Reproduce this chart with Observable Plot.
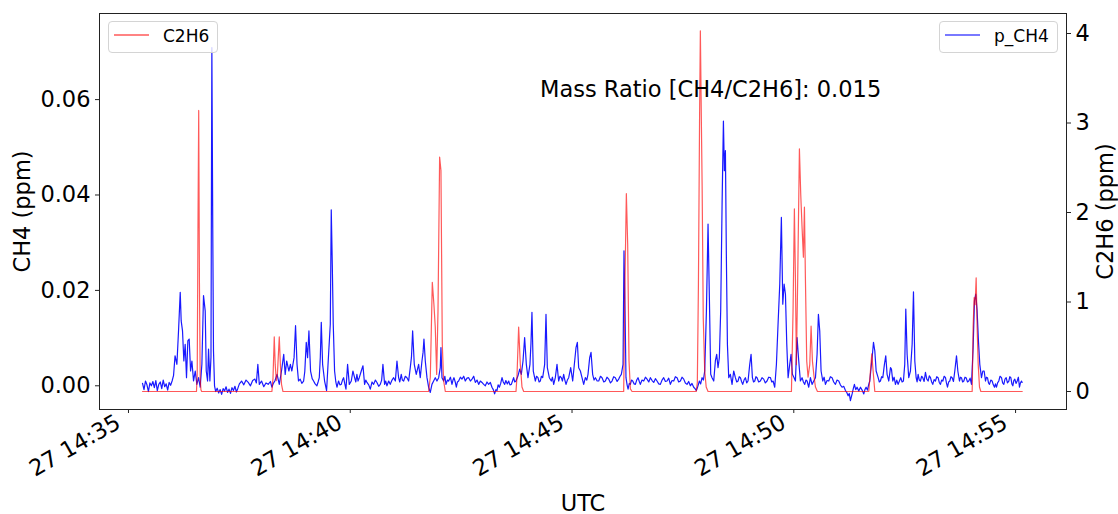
<!DOCTYPE html>
<html>
<head>
<meta charset="utf-8">
<script src="https://cdn.jsdelivr.net/npm/d3@7"></script>
<script src="https://cdn.jsdelivr.net/npm/@observablehq/plot@0.6"></script>
<style>
  body { margin: 0; background: #fff; }
  #wrap { position: relative; width: 1118px; height: 514px; font-family: "DejaVu Sans", sans-serif; }
</style>
</head>
<body>
<div id="wrap"></div>
<script>
// ---- data: seconds after 27 14:35:00 UTC, value in ppm ----
const ch4Series = [[19,.0005],[21,-.0008],[23,.0010],[25,.0002],[27,-.0012],[29,.0006],[31,0],[33,.0009],[35,-.0004],[37,.0011],[39,-.0010],[41,.0003],[43,.0008],[45,-.0006],[47,.0012],[49,-.0002],[51,.0004],[53,-.0009],[55,.0007],[57,.0001],[59,.0010],[61,.0022],[63,.0063],[65.5,.0045],[67.7,.0115],[70,.0196],[71.3,.0136],[73.1,.0115],[74.9,.0052],[76.7,.0087],[78.5,.0017],[80.3,.0094],[82.1,.0098],[84,.0031],[85.8,.0052],[88,.0010],[90.3,.0031],[92.5,.0003],[94.8,.0017],[97,-.0003],[99.3,.0045],[101.5,.0189],[103.8,.0157],[105.2,.0031],[107,.0010],[108.3,.0077],[110.1,.0010],[111.6,.0060],[112.8,.0709],[114,.0330],[115,.0073],[116.4,0],[118,-.0012],[120,-.0005],[122,-.0015],[124,-.0008],[126,-.0018],[128,-.0006],[130,-.0011],[132,-.0002],[134,-.0014],[136,-.0007],[138,-.0016],[140,-.0004],[142,-.0010],[144,-.0001],[146,-.0013],[148,-.0005],[150,.0004],[153,.0010],[156,.0002],[159,.0012],[162,.0007],[165,0],[168,.0011],[171,.0014],[173,.0006],[175,.0045],[177,.0003],[180,.0010],[183,-.0002],[186,.0006],[189,.0003],[192,.0009],[194,-.0003],[196,.0005],[198,.0010],[201,.0024],[204,.0003],[207,.0031],[210,.0066],[212,.0024],[214,.0052],[217,.0031],[219,.0045],[221,.0031],[224,.0059],[226,.0126],[228,.0045],[230,.0010],[232.3,.0014],[234.5,.0005],[236.9,.0010],[238.5,.0030],[240.5,.0091],[242.3,.0059],[244.1,.0115],[246.3,.0031],[248.5,.0015],[250.4,.0010],[252.5,.0004],[254.9,0],[256.5,.0008],[258.1,.0017],[259.5,.0060],[260.8,.0133],[262.6,.0045],[265.3,.0010],[268,-.0010],[270.7,.0066],[273,.0129],[274.3,.0369],[275.7,.0255],[277,.0129],[278.8,.0031],[280.5,.0008],[282,-.0003],[284.2,.0010],[286,.0002],[287.8,.0003],[289.5,.0012],[291,.0017],[292.5,.0005],[294.2,-.0007],[296.4,.0045],[298.7,.0003],[301.4,.0010],[303.6,.0031],[305.9,.0017],[307.5,.0008],[309,.0024],[310.5,.0010],[312.2,.0017],[314.9,.0031],[317.2,.0042],[319.4,.0003],[321,.0012],[322.6,.0007],[325,.0002],[327.1,-.0007],[329.5,.0008],[331.6,.0003],[334,.0012],[336.1,.0007],[338.5,-.0001],[340.6,.0003],[342.5,.0012],[344.2,.0045],[346.5,.0003],[348,.0010],[349.6,0],[352,.0010],[354.1,.0003],[356.5,.0012],[358.7,.0017],[361,.0010],[363.2,.0052],[365.4,.0017],[367,.0008],[369,.0024],[370.5,.0012],[372.2,.0010],[374.5,.0020],[376.7,.0017],[379,.0010],[381.2,.0038],[382.8,.0060],[384.4,.0115],[386.6,.0045],[389.3,.0024],[392.5,.0045],[394.7,.0017],[397,.0052],[398.5,.0070],[399.7,.0098],[401.5,.0052],[403.8,.0017],[406,-.0003],[408.3,-.0014],[410.5,.0003],[412.8,.0010],[415,.0017],[417.3,.0010],[419.6,.0017],[421.8,.0038],[422.7,.0080],[424.1,.0017],[426.3,.0010],[428,.0020],[429.5,.0003],[431.5,.0012],[433.1,.0010],[435.5,.0018],[437.6,.0003],[439,.0012],[440.3,.0017],[442,.0008],[443.5,-.0003],[445,.0008],[446.6,.0010],[449,.0018],[451.1,.0014],[453.5,.0020],[455.6,.0010],[458,.0016],[460.2,.0017],[462.5,.0010],[464.7,.0014],[467,.0020],[469.2,.0007],[471.5,.0012],[473.7,.0003],[476,.0010],[478.2,.0007],[480.5,.0003],[482.7,0],[485,.0008],[487.2,.0003],[489.5,.0007],[491.7,-.0003],[493.5,-.0008],[495.3,-.0017],[497,-.0008],[498.5,-.0010],[500,.0002],[501.7,-.0003],[503.5,.0005],[505.3,.0017],[507,.0008],[508.9,.0003],[510.5,.0011],[512.5,.0004],[514.3,.0010],[516,.0002],[517.9,.0003],[519.5,.0010],[521,.0017],[522.5,.0008],[524.2,.0010],[526.9,.0021],[529.2,.0035],[531.4,.0024],[533.7,.0052],[535.9,.0101],[538.2,.0045],[540.4,.0017],[543.1,.0045],[544.5,.0090],[545.8,.0154],[547.6,.0031],[550.4,.0010],[552,.0020],[553.9,.0017],[555.5,.0008],[557.1,.0010],[558.5,.0020],[560.3,.0017],[563,.0045],[564.8,.0150],[566.6,.0038],[569.3,.0017],[572,.0010],[573.5,.0018],[575.2,.0003],[577.4,.0017],[579.7,.0045],[581.9,.0010],[583.7,.0020],[585.5,.0017],[587,.0010],[588.7,.0024],[590.3,.0012],[591.9,.0003],[593.7,.0012],[595.5,.0017],[598.2,.0038],[600.9,.0010],[603.6,.0052],[605.4,.0080],[607.2,.0091],[609,.0038],[611.3,.0031],[613.5,.0017],[615.8,.0003],[618,.0017],[620,.0012],[621.6,.0024],[623.9,.0059],[625.7,.0070],[627.9,.0024],[629.8,.0012],[631.6,.0017],[634,.0010],[636.1,.0010],[638.5,.0020],[640.6,.0017],[643,.0008],[645.1,.0010],[647.3,.0018],[649.6,.0014],[652,.0006],[654.1,.0010],[656.4,.0019],[658.6,.0017],[661,.0009],[663.1,.0014],[665,.0020],[666.7,.0024],[669,.0045],[670.3,.0283],[671.7,.0157],[673,.0017],[674.5,.0002],[675.8,-.0007],[677.5,.0005],[678.9,.0003],[680.5,.0012],[682.1,.0010],[684,.0004],[685.7,.0003],[687.5,.0012],[689.3,.0017],[691,.0009],[692.4,.0003],[694.7,.0012],[697,.0010],[699.3,.0018],[701.5,.0014],[703.8,.0008],[706,.0017],[708.3,.0011],[710.5,.0007],[712.8,.0015],[715,.0010],[717.3,.0004],[719.5,.0003],[721.8,.0012],[724,.0017],[726.3,.0009],[728.5,.0010],[730.8,.0016],[733,.0003],[735.3,.0011],[737.6,.0010],[739.8,.0019],[742.1,.0017],[744.3,.0008],[746.6,.0010],[748.8,.0018],[751.1,.0014],[753.3,.0006],[755.6,.0003],[757.8,.0009],[760.1,0],[762.3,.0005],[764.6,-.0003],[766.4,-.0006],[768.2,-.0010],[770,-.0002],[772.3,.0010],[774,.0004],[775.9,.0017],[777.7,.0012],[779.5,.0031],[781.8,.0157],[784,.0339],[785.8,.0185],[787.6,.0024],[789.4,.0017],[791.7,.0010],[793.9,.0052],[795.7,.0066],[797.5,.0038],[799.3,.0059],[801.1,.0157],[803,.0381],[804.8,.0555],[806.1,.0451],[807.5,.0493],[808.8,.0269],[810.2,.0087],[812,.0017],[814.2,.0024],[816.5,.0003],[818.7,.0031],[821,.0017],[822.8,.0008],[824.6,.0010],[826.2,.0019],[827.8,.0017],[829.3,.0009],[830.9,.0003],[832.7,.0012],[834.5,.0017],[836.3,.0006],[838.1,.0010],[840.4,.0045],[842.2,.0066],[844,.0017],[845.6,.0008],[847.2,.0010],[848.8,.0019],[850.3,.0017],[852.5,.0008],[854.8,.0010],[857,.0017],[859.3,.0014],[861.5,.0006],[863.8,.0010],[866,.0018],[868.4,.0017],[870.2,.0008],[872,.0010],[874.2,-.0003],[876.5,.0045],[878.7,.0129],[881,.0213],[883.2,.0353],[885.1,.0171],[886.9,.0213],[888.7,.0192],[890.5,.0087],[892.3,.0017],[894.5,.0045],[896.3,.0066],[898.1,.0024],[900.4,.0017],[902.2,.0010],[904.4,.0101],[906.7,.0052],[908.9,.0010],[911.2,.0017],[913,.0008],[914.8,.0003],[916.4,.0012],[918,.0010],[920.2,-.0003],[922.5,.0017],[924.7,.0003],[927,.0010],[929.3,.0017],[931.5,.0066],[933.3,.0150],[935.1,.0115],[936.9,.0031],[939.2,.0010],[941,.0018],[942.8,.0003],[945,.0011],[947.3,.0010],[949.5,.0019],[951.8,.0017],[954,.0008],[956.3,.0003],[958.5,.0012],[960.8,.0010],[963,.0002],[965.3,-.0003],[967.5,-.0001],[969.9,-.0010],[971.7,-.0014],[973.5,-.0021],[975,-.0016],[976.6,-.0031],[978.9,-.0017],[980.5,-.0006],[982,.0003],[983.8,-.0008],[985.6,-.0003],[987.9,-.0011],[990.2,-.0003],[992.4,-.0009],[994.7,-.0017],[996.2,-.0008],[997.8,-.0003],[999.6,-.0009],[1001.4,.0003],[1002.8,.0010],[1004.1,.0031],[1006.4,.0066],[1007.8,.0091],[1009.6,.0073],[1011.4,.0031],[1014.1,.0017],[1015.7,.0008],[1017.2,.0010],[1018.8,.0019],[1020.4,.0017],[1022.6,.0045],[1024.4,.0063],[1026.2,.0024],[1028.5,.0010],[1030.8,.0038],[1032.1,.0035],[1033.9,.0010],[1035.7,.0018],[1037.5,.0003],[1039.3,.0012],[1041.1,.0003],[1042.9,.0010],[1044.7,.0017],[1046.5,.0008],[1048.3,.0010],[1050.1,.0045],[1051.5,.0161],[1053.3,.0066],[1055.5,.0017],[1057.8,.0031],[1060.1,.0087],[1061.9,.0197],[1063.7,.0052],[1065.5,.0017],[1066.8,.0008],[1068.2,.0024],[1069.8,.0012],[1071.3,.0010],[1072.9,.0020],[1074.5,.0017],[1076.3,.0009],[1078.1,.0028],[1079.9,.0014],[1081.7,.0010],[1083.3,.0021],[1084.9,.0017],[1086.5,.0008],[1088,.0003],[1089.8,.0013],[1091.6,.0010],[1093.4,.0019],[1095.2,.0017],[1096.8,.0007],[1098.4,.0003],[1100,.0012],[1101.6,.0010],[1103.4,.0020],[1105.2,.0017],[1106.5,.0006],[1107.9,-.0003],[1109.5,.0008],[1111,.0010],[1112.6,.0019],[1114.2,.0017],[1116,.0009],[1117.8,.0031],[1120.1,.0063],[1121.9,.0031],[1124.1,.0010],[1125.5,.0018],[1126.8,.0017],[1128.4,.0008],[1130,.0010],[1131.6,.0018],[1133.1,.0017],[1135,.0008],[1136.7,.0010],[1138.5,.0016],[1140.4,.0003],[1142.6,.0080],[1144.4,.0178],[1146.2,.0192],[1148,.0157],[1149.8,.0094],[1151.6,.0045],[1153.9,.0017],[1155.7,.0031],[1157.5,.0031],[1159.3,.0010],[1160.7,.0018],[1162,.0017],[1163.4,.0006],[1164.7,.0003],[1166.5,.0012],[1168.3,.0010],[1169.9,.0002],[1171.5,-.0003],[1172.8,.0004],[1174.2,-.0003],[1175.7,.0006],[1177.3,.0010],[1179,.0020],[1181,.0017],[1182.5,.0006],[1184.1,.0003],[1185.7,.0014],[1187.3,.0017],[1189,.0006],[1190.9,.0010],[1192.2,.0019],[1193.6,.0017],[1195,.0004],[1196.3,0],[1197.6,.0011],[1199,.0014],[1200.6,.0005],[1202.2,.0010],[1203.8,.0018],[1205.3,-.0003],[1206.6,.0006],[1208,.0010],[1208.9,.0007]];

const c2h6Series = [[19,0],[92,0],[93,.2],[94,1.8],[95,3.14],[96,1.2],[97,.15],[98,.02],[99,0],
[194,0],[195.5,.15],[197.2,.61],[198.5,.3],[200,.12],[201.5,.2],[203,.45],[204,.61],[205.5,.3],[207,.08],[209,0],
[406,0],[408.3,.16],[411,1.22],[413.2,.97],[415,.72],[416.9,.19],[418.7,.9],[420.9,2.62],[422.7,2.47],[424.5,.53],[426.3,.12],[428.6,0],
[524.2,0],[525.5,.16],[527.8,.72],[530,.31],[532.3,.05],[534.6,0],
[669.9,0],[671.7,1.27],[673.5,2.21],[675.3,1.64],[677.1,.34],[678.9,.03],[681.2,0],
[768,0],[769.5,.1],[771,1.2],[772.5,3.0],[773.6,4.03],[775,3.0],[776,2.3],[777.5,.83],[779.5,.23],[781.5,.05],[784,0],
[896.8,0],[899,.9],[900.8,2.04],[902.2,1.27],[903.5,.3],[905.3,1.27],[907.6,2.71],[909.4,2.2],[911.2,1.83],[913,1.5],[914.4,2.06],[915.7,1.27],[917.5,.34],[919.3,.16],[921.6,.3],[923.4,.73],[925.2,.34],[927.5,.16],[929.3,.05],[932,0],
[1001.4,0],[1003.7,.23],[1005.5,.42],[1007.3,.23],[1009.6,0],
[1141.3,0],[1142.6,.72],[1144,1.05],[1145.3,.97],[1146.7,1.27],[1148,.72],[1149.4,.31],[1151.2,.05],[1153,0],[1209,0]];

const ch4Ticks = [0, 0.02, 0.04, 0.06];
const c2h6Ticks = [0, 1, 2, 3, 4];
const xTickLabels = ["14:35", "14:40", "14:45", "14:50", "14:55"];
const massRatioLabel = "Mass Ratio [CH4/C2H6]: 0.015";
const ch4Name = "p_CH4", c2h6Name = "C2H6";

// ---- scales ----
const base = Date.UTC(2023, 6, 27, 14, 35, 0);
const toDate = s => new Date(base + s * 1000);
const tickDates = xTickLabels.map(s => { const [h, m] = s.split(":").map(Number); return new Date(Date.UTC(2023, 6, 27, h, m, 0)); });
const L0 = -0.00497, L1 = 0.07805;   // CH4 axis extent
const R0 = -0.201, R1 = 4.2235;      // C2H6 axis extent
const toLeft = v => L0 + (v - R0) * (L1 - L0) / (R1 - R0);
const fromLeft = u => R0 + (u - L0) * (R1 - R0) / (L1 - L0);

const BLUE = "#0000ff", RED = "#ff0000";
const FS = 22.5;

const chart = Plot.plot({
  width: 1118, height: 514,
  marginLeft: 99, marginRight: 52, marginTop: 13, marginBottom: 105,
  style: { fontFamily: "'DejaVu Sans', sans-serif", fontSize: FS + "px", color: "#000", background: "#fff", overflow: "visible" },
  x: { type: "utc", domain: [toDate(-39.2), toDate(1268.9)] },
  y: { domain: [L0, L1] },
  marks: [
    Plot.line(ch4Series, { x: d => toDate(d[0]), y: d => d[1], stroke: BLUE, strokeWidth: 1.2, strokeOpacity: 0.9 }),
    Plot.line(c2h6Series, { x: d => toDate(d[0]), y: d => toLeft(d[1]), stroke: RED, strokeWidth: 1.2, strokeOpacity: 0.65 }),
    Plot.frame({ stroke: "#222", strokeWidth: 1 }),
    Plot.axisY({ anchor: "left", ticks: ch4Ticks, tickSize: 4, tickPadding: 5, tickFormat: d => d.toFixed(2), label: null, fontSize: FS, stroke: "#222" }),
    Plot.axisY({ anchor: "right", ticks: c2h6Ticks.map(toLeft), tickSize: 4, tickPadding: 5, tickFormat: d => String(Math.round(fromLeft(d))), label: null, fontSize: FS, stroke: "#222" }),
    Plot.axisX({ ticks: tickDates, tickSize: 4, tickFormat: () => "", label: null, stroke: "#222" }),
    Plot.axisX({ ticks: tickDates, tickSize: 0, tickPadding: 11, tickRotate: -30, textAnchor: "end", dx: -10, tickFormat: d3.utcFormat("%d %H:%M"), label: null, fontSize: FS }),
    Plot.text([massRatioLabel], { frameAnchor: "top-left", text: d => d, textAnchor: "start", lineAnchor: "middle", dx: 440.5, dy: 75.8, fontSize: FS, fill: "#000" }),
    Plot.text(["CH4 (ppm)"], { frameAnchor: "left", text: d => d, rotate: -90, textAnchor: "middle", lineAnchor: "middle", dx: -76.5, fontSize: FS, fill: "#000" }),
    Plot.text(["C2H6 (ppm)"], { frameAnchor: "right", text: d => d, rotate: -90, textAnchor: "middle", lineAnchor: "middle", dx: 39.5, fontSize: FS, fill: "#000" }),
    Plot.text(["UTC"], { frameAnchor: "bottom", text: d => d, textAnchor: "middle", lineAnchor: "middle", dy: 94, fontSize: FS, fill: "#000" })
  ]
});

const wrap = document.getElementById("wrap");
wrap.appendChild(chart);

// legends drawn into the SVG
const svg = d3.select(chart);
function addLegend(left, top, width, height, color, opacity, label) {
  const g = svg.append("g").attr("transform", `translate(${left},${top})`);
  g.append("rect").attr("x", 0.5).attr("y", 0.5).attr("width", width).attr("height", height)
    .attr("rx", 3.5).attr("fill", "white").attr("fill-opacity", 0.8).attr("stroke", "#d4d4d4").attr("stroke-width", 1);
  g.append("line").attr("x1", 6).attr("x2", 41).attr("y1", 14).attr("y2", 14)
    .attr("stroke", color).attr("stroke-opacity", opacity).attr("stroke-width", 1.3);
  g.append("text").attr("x", 55).attr("y", 21.3).attr("text-anchor", "start")
    .style("font-size", "17px").style("font-family", "'DejaVu Sans', sans-serif")
    .attr("fill", "#000").text(label);
}
addLegend(108, 21, 109, 31, RED, 0.65, c2h6Name);
addLegend(939, 21, 118, 31, BLUE, 0.7, ch4Name);
</script>
</body>
</html>
